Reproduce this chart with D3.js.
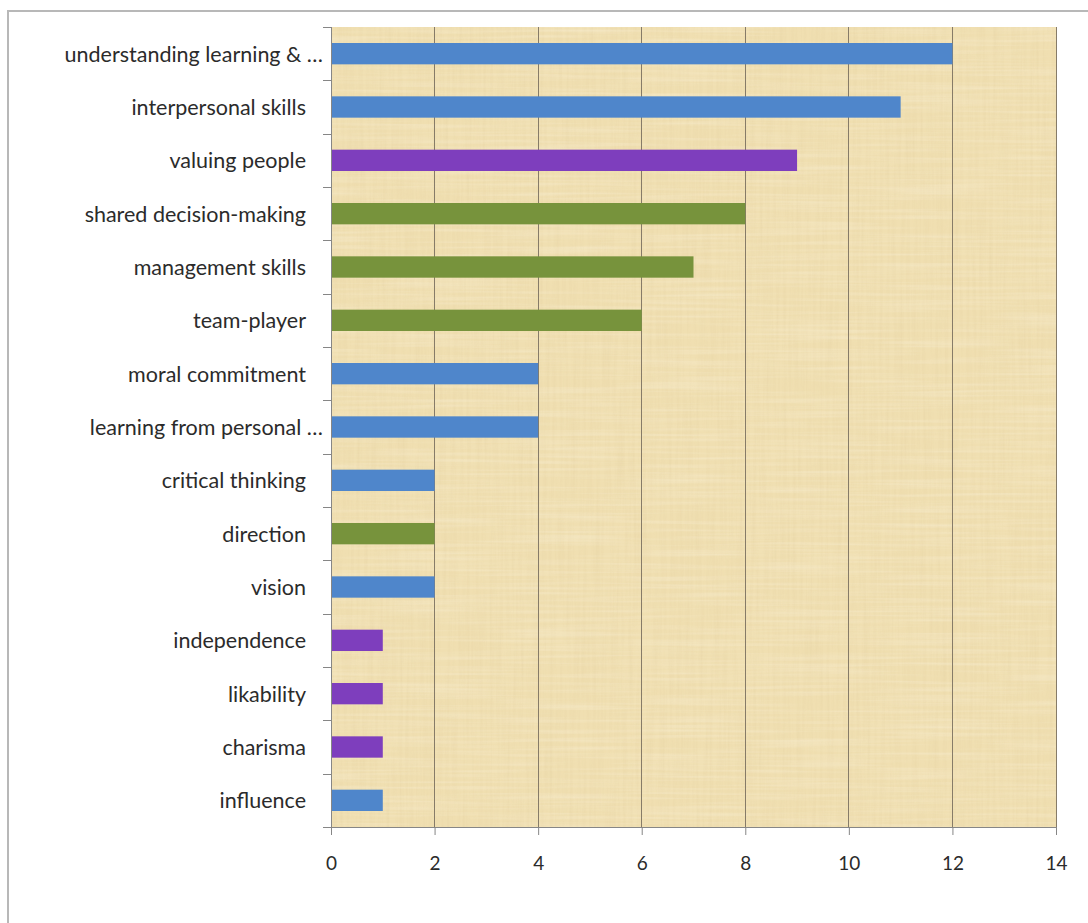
<!DOCTYPE html>
<html>
<head>
<meta charset="utf-8">
<script src="https://cdn.jsdelivr.net/npm/d3@7/dist/d3.min.js"></script>
<style>
  html, body { margin: 0; padding: 0; background: #ffffff; }
  svg { display: block; }
  text { font-family: Lato, "Open Sans", "Liberation Sans", sans-serif; fill: #2b2b2b; }
</style>
</head>
<body>
<svg id="chart" width="1088" height="923"></svg>
<script>
// ---- data ----
const categories = [
  "understanding learning & …",
  "interpersonal skills",
  "valuing people",
  "shared decision-making",
  "management skills",
  "team-player",
  "moral commitment",
  "learning from personal …",
  "critical thinking",
  "direction",
  "vision",
  "independence",
  "likability",
  "charisma",
  "influence"
];
const values = [12, 11, 9, 8, 7, 6, 4, 4, 2, 2, 2, 1, 1, 1, 1];
const groups = ["blue", "blue", "purple", "green", "green", "green", "blue", "blue", "blue", "green", "blue", "purple", "purple", "purple", "blue"];
const groupNames = ["blue", "purple", "green"];
const groupColors = ["#4F86CB", "#7E3EBD", "#77933C"];
const xTicks = [0, 2, 4, 6, 8, 10, 12, 14];

// ---- layout ----
const svg = d3.select("#chart");
const plot = { left: 331, right: 1056, top: 27, bottom: 827 };

const x = d3.scaleLinear().domain([0, 14]).range([plot.left, plot.right]);
const y = d3.scaleBand().domain(categories).range([plot.top, plot.bottom]).paddingInner(0.6).paddingOuter(0.3);
const color = d3.scaleOrdinal().domain(groupNames).range(groupColors);

// outer chart border
svg.append("rect")
  .attr("x", 8).attr("y", 11).attr("width", 1090).attr("height", 930)
  .attr("fill", "#ffffff").attr("stroke", "#b8b8b8").attr("stroke-width", 2);

// parchment background
const defs = svg.append("defs");
const f = defs.append("filter").attr("id", "paper").attr("x", 0).attr("y", 0).attr("width", 1).attr("height", 1);
f.append("feTurbulence").attr("type", "fractalNoise").attr("baseFrequency", "0.3 0.01").attr("numOctaves", 3).attr("seed", 4).attr("result", "n");
f.append("feColorMatrix").attr("in", "n").attr("type", "matrix")
  .attr("values", "0 0 0 0 0.78  0 0 0 0 0.64  0 0 0 0 0.36  0 0 0 -1.1 0.72");
const f2 = defs.append("filter").attr("id", "paper2").attr("x", 0).attr("y", 0).attr("width", 1).attr("height", 1);
f2.append("feTurbulence").attr("type", "fractalNoise").attr("baseFrequency", "0.008 0.3").attr("numOctaves", 2).attr("seed", 9).attr("result", "n");
f2.append("feColorMatrix").attr("in", "n").attr("type", "matrix")
  .attr("values", "0 0 0 0 1  0 0 0 0 0.97  0 0 0 0 0.88  0 0 0 -1 0.6");

svg.append("rect")
  .attr("x", plot.left).attr("y", plot.top)
  .attr("width", plot.right - plot.left).attr("height", plot.bottom - plot.top)
  .attr("fill", "#F0DFB1");
svg.append("rect")
  .attr("x", plot.left).attr("y", plot.top)
  .attr("width", plot.right - plot.left).attr("height", plot.bottom - plot.top)
  .attr("filter", "url(#paper)").attr("opacity", 0.6);
svg.append("rect")
  .attr("x", plot.left).attr("y", plot.top)
  .attr("width", plot.right - plot.left).attr("height", plot.bottom - plot.top)
  .attr("filter", "url(#paper2)").attr("opacity", 0.5);

// vertical gridlines
svg.append("g").selectAll("line").data(xTicks.filter(d => d > 0)).join("line")
  .attr("x1", d => x(d)).attr("x2", d => x(d))
  .attr("y1", plot.top).attr("y2", plot.bottom)
  .attr("stroke", "#867b68").attr("stroke-width", 1).attr("shape-rendering", "crispEdges");

// bars
svg.append("g").selectAll("rect").data(categories).join("rect")
  .attr("x", x(0))
  .attr("y", d => y(d))
  .attr("width", (d, i) => x(values[i]) - x(0))
  .attr("height", y.bandwidth())
  .attr("fill", (d, i) => color(groups[i]));

// x axis
const xAxis = d3.axisBottom(x).tickValues(xTicks).tickSize(8).tickPadding(22).tickFormat(d3.format("d"));
const gx = svg.append("g").attr("transform", `translate(0,${plot.bottom})`).call(xAxis);
gx.select(".domain").attr("stroke", "#868686").attr("d", `M${plot.left - 8},0.5H${plot.right}`);
gx.selectAll(".tick line").attr("stroke", "#868686");
gx.selectAll(".tick text").attr("font-size", 19).attr("fill", "#2b2b2b")
  .style("font-family", "Lato, 'Open Sans', sans-serif");

// y axis (ticks at band boundaries)
const boundaries = d3.range(categories.length + 1).map(i => plot.top + i * (plot.bottom - plot.top) / categories.length);
svg.append("line")
  .attr("x1", plot.left + 0.5).attr("x2", plot.left + 0.5)
  .attr("y1", plot.top).attr("y2", plot.bottom)
  .attr("stroke", "#868686");
svg.append("g").selectAll("line").data(boundaries).join("line")
  .attr("x1", plot.left - 8).attr("x2", plot.left)
  .attr("y1", d => Math.round(d) + 0.5).attr("y2", d => Math.round(d) + 0.5)
  .attr("stroke", "#868686");

// category labels
svg.append("g").selectAll("text").data(categories).join("text")
  .attr("x", d => d.endsWith("…") ? 323 : 306)
  .attr("y", d => y(d) + y.bandwidth() / 2)
  .attr("text-anchor", "end")
  .attr("dominant-baseline", "central")
  .attr("font-size", 21.5)
  .text(d => d);
</script>
</body>
</html>
